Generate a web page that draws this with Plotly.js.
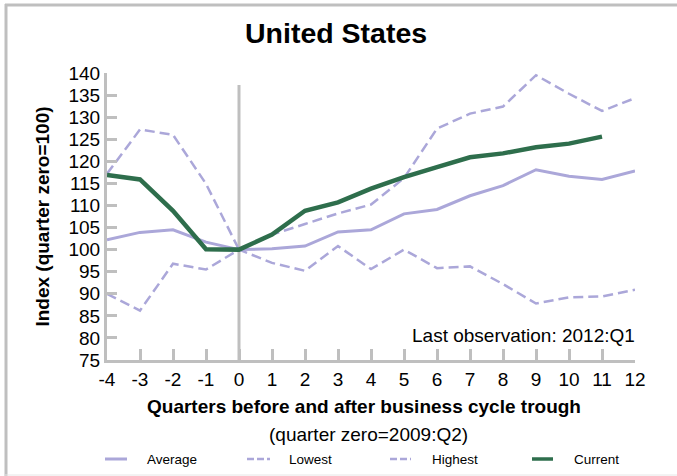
<!DOCTYPE html>
<html>
<head>
<meta charset="utf-8">
<script src="https://cdn.plot.ly/plotly-3.0.1.min.js"></script>
<style>html,body{margin:0;padding:0;background:#fff;}#chart{width:677px;height:476px;}</style>
</head>
<body>
<div id="chart"></div>
<script>
var quarters = [-4,-3,-2,-1,0,1,2,3,4,5,6,7,8,9,10,11,12];
var xTickLabels = ['-4','-3','-2','-1','0','1','2','3','4','5','6','7','8','9','10','11','12'];
var yTickValues = [75,80,85,90,95,100,105,110,115,120,125,130,135,140];
var average = [102.2,103.9,104.5,101.7,100,100.2,100.8,104,104.5,108.1,109.1,112.2,114.5,118.1,116.6,115.9,117.8];
var lowest  = [90,86.2,96.8,95.5,100,97,95.2,100.8,95.6,100,95.8,96.2,92.2,87.8,89.2,89.4,90.9];
var highest = [117.2,127.2,126,114.9,100,103.4,105.8,108.2,110.2,116.2,127.4,130.8,132.4,139.5,135.3,131.4,134.3];
var current = [116.9,115.9,108.8,100.1,100,103.4,108.8,110.7,113.8,116.4,118.7,120.9,121.8,123.2,124,125.6,null];
var seriesNames = ['Average','Lowest','Highest','Current'];

var W = 677, H = 476, L = 107, R = 42, T = 73, B = 116;
var pw = W - L - R, ph = H - T - B;
function px(x){ return (x - L) / pw; }
function py(y){ return (H - B - y) / ph; }

var lav = '#aba7d9', grn = '#2e6e4c', gray = '#bfbfbf';
var FONT = 'Arial, "Liberation Sans", sans-serif';

var traces = [
  {x: quarters, y: average, name: seriesNames[0], mode: 'lines', line: {color: lav, width: 3}},
  {x: quarters, y: lowest, name: seriesNames[1], mode: 'lines', line: {color: lav, width: 2.5, dash: '10px,5px'}},
  {x: quarters, y: highest, name: seriesNames[2], mode: 'lines', line: {color: lav, width: 2.5, dash: '10px,5px'}},
  {x: quarters, y: current, name: seriesNames[3], mode: 'lines', line: {color: grn, width: 4.5}}
];

var shapes = [
  {type: 'line', xref: 'x', yref: 'y', x0: 0, x1: 0, y0: 75, y1: 137.3, line: {color: gray, width: 3}, layer: 'below'},
  {type: 'line', xref: 'paper', yref: 'paper', x0: px(6), x1: px(6), y0: py(4), y1: py(476), line: {color: gray, width: 3}},
  {type: 'line', xref: 'paper', yref: 'paper', x0: px(5), x1: px(680), y0: py(5), y1: py(5), line: {color: gray, width: 3}},
  {type: 'line', xref: 'paper', yref: 'paper', x0: px(5), x1: px(680), y0: py(475), y1: py(475), line: {color: '#e6e6e6', width: 1}}
];

var legendItems = [
  {lx0: 105, lx1: 127, tx: 145, dash: 'solid', color: lav, width: 3},
  {lx0: 247, lx1: 270, tx: 287, dash: '7px,3px', color: lav, width: 2.5},
  {lx0: 390, lx1: 411, tx: 430, dash: '7px,3px', color: lav, width: 2.5},
  {lx0: 532, lx1: 553, tx: 572, dash: 'solid', color: grn, width: 3.5}
];
var legY = 459;
var annotations = [
  {text: '<b>United States</b>', xref: 'paper', yref: 'paper', x: px(335.5), y: py(33), xanchor: 'center', yanchor: 'middle', showarrow: false, font: {family: FONT, size: 28.5, color: '#000'}},
  {text: '<b>Quarters before and after business cycle trough</b>', xref: 'paper', yref: 'paper', x: px(364), y: py(406), xanchor: 'center', yanchor: 'middle', showarrow: false, font: {family: FONT, size: 19, color: '#000'}},
  {text: '(quarter zero=2009:Q2)', xref: 'paper', yref: 'paper', x: px(368), y: py(434), xanchor: 'center', yanchor: 'middle', showarrow: false, font: {family: FONT, size: 19, color: '#000'}},
  {text: 'Last observation: 2012:Q1', xref: 'paper', yref: 'paper', x: px(637), y: py(335), xanchor: 'right', yanchor: 'middle', showarrow: false, font: {family: FONT, size: 19, color: '#000'}}
];
legendItems.forEach(function(it, i){
  shapes.push({type: 'line', xref: 'paper', yref: 'paper', x0: px(it.lx0), x1: px(it.lx1), y0: py(legY), y1: py(legY), line: {color: it.color, width: it.width, dash: it.dash}});
  annotations.push({text: seriesNames[i], xref: 'paper', yref: 'paper', x: px(it.tx), y: py(legY), xanchor: 'left', yanchor: 'middle', showarrow: false, font: {family: FONT, size: 13.5, color: '#000'}});
});

var layout = {
  width: W, height: H,
  margin: {l: L, r: R, t: T, b: B, pad: 0},
  paper_bgcolor: '#fff', plot_bgcolor: '#fff',
  showlegend: false,
  font: {family: FONT, size: 19, color: '#000'},
  xaxis: {
    range: [-4, 12], tickvals: quarters, ticktext: xTickLabels,
    showgrid: false, zeroline: false, showline: true, linecolor: gray, linewidth: 3,
    ticks: 'inside', ticklen: 11, tickwidth: 3, tickcolor: gray,
    tickfont: {family: FONT, size: 19, color: '#000'}
  },
  yaxis: {
    range: [75, 140], tickvals: yTickValues,
    showgrid: false, zeroline: false, showline: true, linecolor: gray, linewidth: 3,
    ticks: 'inside', ticklen: 10, tickwidth: 3, tickcolor: gray,
    tickfont: {family: FONT, size: 19, color: '#000'},
    title: {text: '<b>Index (quarter zero=100)</b>', font: {family: FONT, size: 19, color: '#000'}, standoff: 14}
  },
  shapes: shapes,
  annotations: annotations
};

Plotly.newPlot('chart', traces, layout, {displayModeBar: false, staticPlot: true});
</script>
</body>
</html>
